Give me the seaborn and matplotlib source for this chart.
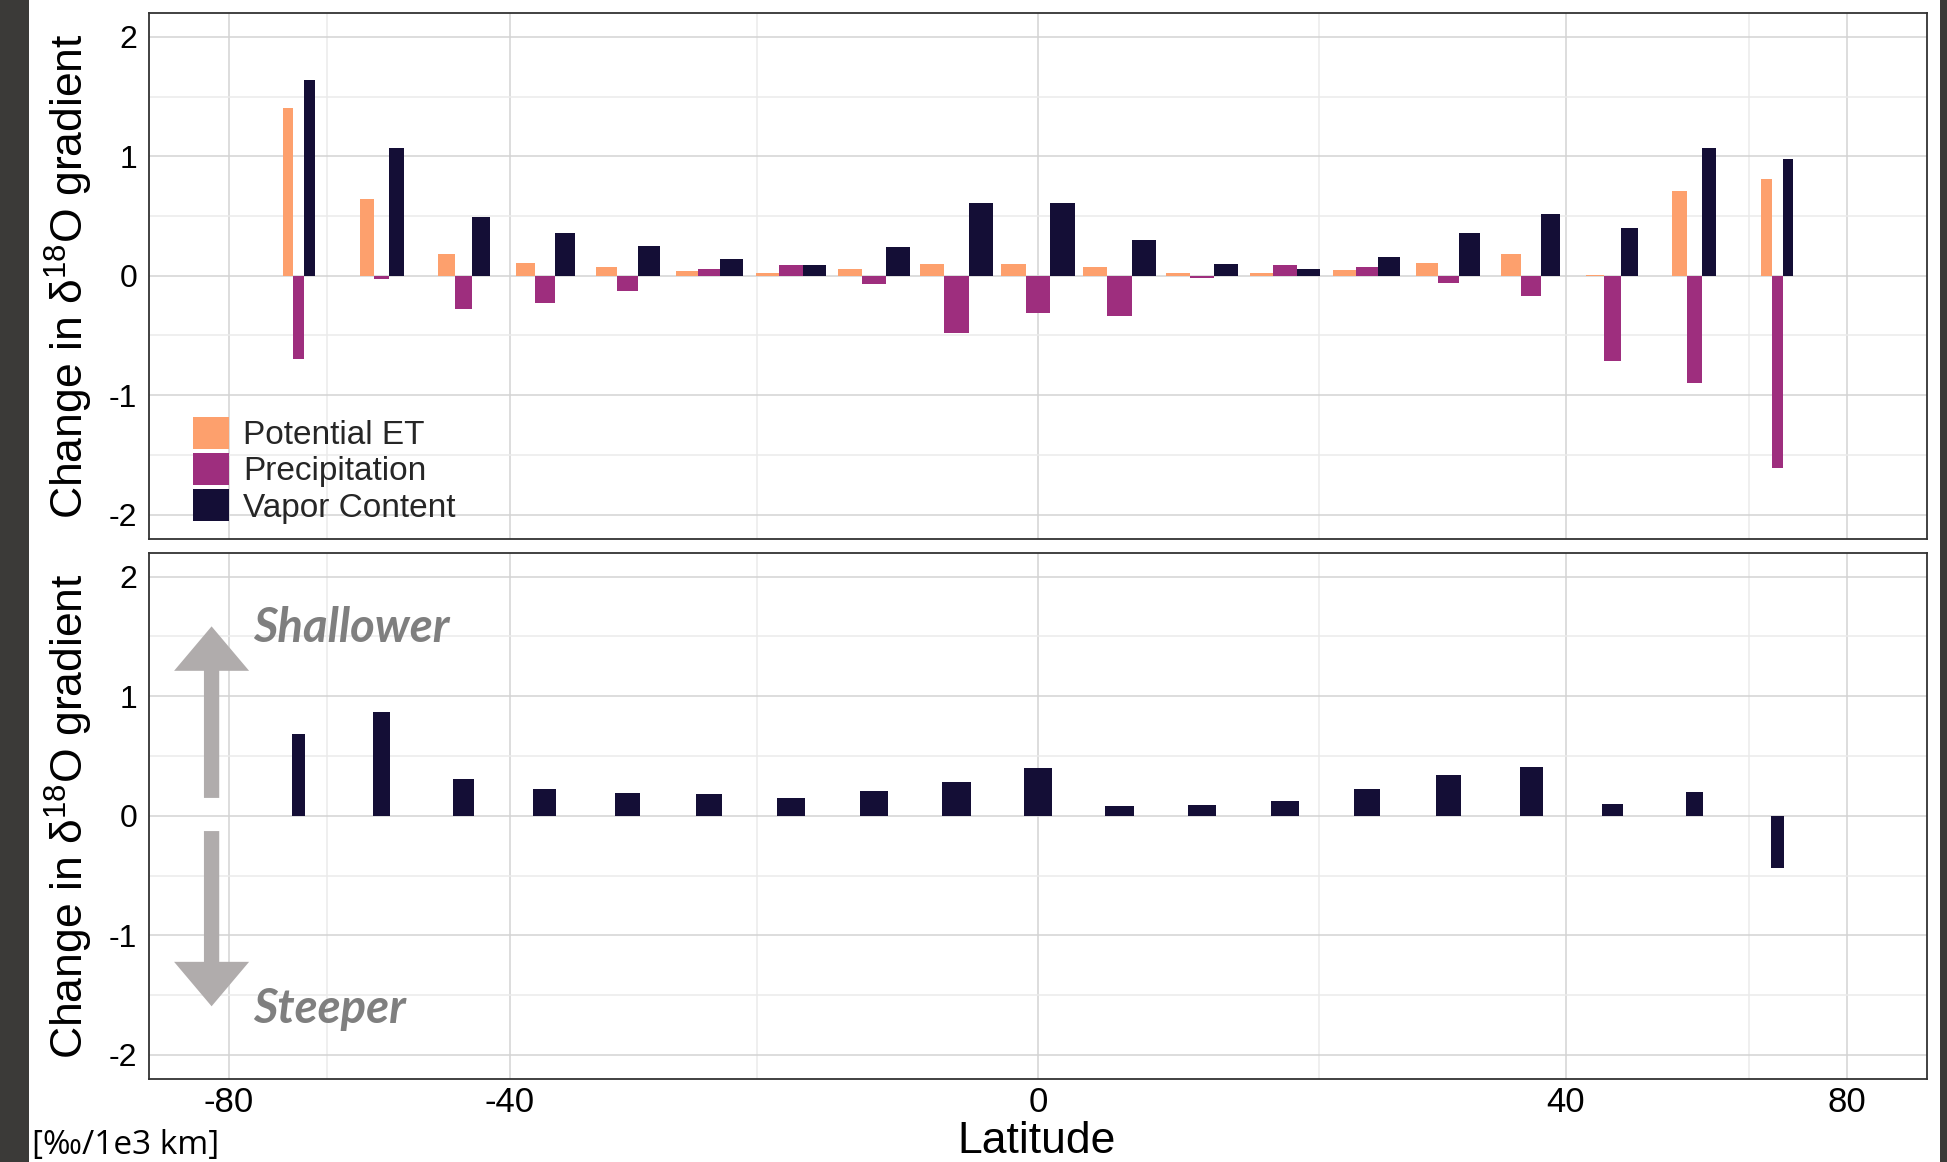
import numpy as np
import pandas as pd
import matplotlib
matplotlib.use("Agg")
import matplotlib.pyplot as plt
import seaborn as sns
from matplotlib.patches import Patch, Rectangle, FancyArrowPatch, ArrowStyle
from matplotlib.ticker import FixedLocator, MultipleLocator, NullFormatter

# Centres of the equal-area latitude bands (degrees)
latitudes = [-64.2, -53.1, -44.4, -36.9, -30.0, -23.6, -17.5, -11.5, -5.7, 0.0,
             5.7, 11.5, 17.5, 23.6, 30.0, 36.9, 44.4, 53.1, 64.2]

# Change in the d18O gradient attributed to each driver [permil / 1e3 km]
potential_et = [1.40, 0.64, 0.18, 0.11, 0.07, 0.04, 0.02, 0.06, 0.10, 0.10,
                0.07, 0.02, 0.02, 0.05, 0.11, 0.18, 0.01, 0.71, 0.81]
precipitation = [-0.70, -0.03, -0.28, -0.23, -0.13, 0.06, 0.09, -0.07, -0.48, -0.31,
                 -0.34, -0.02, 0.09, 0.07, -0.06, -0.17, -0.71, -0.90, -1.61]
vapor_content = [1.64, 1.07, 0.49, 0.36, 0.25, 0.14, 0.09, 0.24, 0.61, 0.61,
                 0.30, 0.10, 0.06, 0.16, 0.36, 0.52, 0.40, 1.07, 0.98]

# Total simulated change in the gradient
total_change = [0.68, 0.87, 0.31, 0.22, 0.19, 0.18, 0.15, 0.21, 0.28, 0.40,
                0.08, 0.09, 0.12, 0.22, 0.34, 0.41, 0.10, 0.20, -0.44]

components = ["Potential ET", "Precipitation", "Vapor Content"]
component_colors = ["#FDA06D", "#9E2E7E", "#140E36"]
total_color = "#140E36"

lat_major = [-80, -40, 0, 40, 80]
lat_minor = [-60, -20, 20, 60]
lat_tick_labels = ["-80", "-40", "0", "40", "80"]
y_ticks = [-2, -1, 0, 1, 2]

ylabel_text = "Change in δ$^{18}$O gradient"


def lat_to_sine(x):
    """Area-true latitude axis: sin(latitude), continued linearly past the poles."""
    x = np.asarray(x, dtype=float)
    s = np.sin(np.radians(np.clip(x, -90, 90)))
    return np.where(np.abs(x) > 90, np.sign(x) * (1 + (np.abs(x) - 90) / 90), s)


def sine_to_lat(y):
    y = np.asarray(y, dtype=float)
    lat = np.degrees(np.arcsin(np.clip(y, -1, 1)))
    return np.where(np.abs(y) > 1, np.sign(y) * (90 + (np.abs(y) - 1) * 90), lat)


# ---- data tables -------------------------------------------------------
df_parts = pd.DataFrame({
    "lat": latitudes * 3,
    "value": potential_et + precipitation + vapor_content,
    "component": [c for c in components for _ in latitudes],
})
df_total = pd.DataFrame({"lat": latitudes, "value": total_change})

# ---- style ---------------------------------------------------------------
sns.set_theme(style="whitegrid")
plt.rcParams.update({
    "font.family": ["Liberation Sans", "DejaVu Sans"],
    "mathtext.fontset": "custom",
    "mathtext.rm": "Liberation Sans",
    "mathtext.it": "Liberation Sans:italic",
    "mathtext.default": "regular",
    "axes.unicode_minus": False,
    "axes.edgecolor": "#333333",
    "axes.linewidth": 1.3,
    "figure.facecolor": "white",
    "axes.facecolor": "white",
})

fig = plt.figure(figsize=(19.47, 11.62), dpi=100)
ax_top = fig.add_axes([0.07653, 0.53649, 0.91320, 0.45241])
ax_bot = fig.add_axes([0.07653, 0.07151, 0.91320, 0.45284])

# ---- bars ----------------------------------------------------------------
sns.barplot(data=df_parts, x="lat", y="value", hue="component",
            hue_order=components, palette=dict(zip(components, component_colors)),
            native_scale=True, orient="x", width=0.9, dodge=True,
            errorbar=None, saturation=1, linewidth=0, legend=False, ax=ax_top)

sns.barplot(data=df_total, x="lat", y="value", color=total_color,
            native_scale=True, orient="x", width=0.35,
            errorbar=None, saturation=1, linewidth=0, ax=ax_bot)

# ---- axes ----------------------------------------------------------------
for ax in (ax_top, ax_bot):
    ax.set_xscale("function", functions=(lat_to_sine, sine_to_lat))
    ax.set_xlim(-97.4, 97.4)
    ax.set_ylim(-2.2, 2.2)
    ax.xaxis.set_major_locator(FixedLocator(lat_major))
    ax.xaxis.set_minor_locator(FixedLocator(lat_minor))
    ax.xaxis.set_minor_formatter(NullFormatter())
    ax.yaxis.set_major_locator(FixedLocator(y_ticks))
    ax.yaxis.set_minor_locator(MultipleLocator(0.5))
    ax.set_yticklabels([str(t) for t in y_ticks])
    ax.set_axisbelow(True)
    ax.grid(which="major", color="#D3D3D3", linewidth=1.1)
    ax.grid(which="minor", color="#EBEBEB", linewidth=1.1)
    for sp in ax.spines.values():
        sp.set_visible(True)
        sp.set_color("#333333")
        sp.set_linewidth(1.3)
    ax.tick_params(axis="y", which="major", length=5, width=1, color="#333333",
                   pad=3.5, labelsize=23, labelcolor="black")
    ax.tick_params(axis="y", which="minor", length=0)
    ax.tick_params(axis="x", which="minor", length=0)
    ax.set_ylabel(ylabel_text, fontsize=32, color="black")
    ax.yaxis.set_label_coords(-0.0304, 0.5)
    ax.set_xlabel("")

ax_top.tick_params(axis="x", which="major", length=0, labelbottom=False)
ax_bot.set_xticklabels(lat_tick_labels)
ax_bot.tick_params(axis="x", which="major", length=4.5, width=1, color="#333333",
                   pad=0.5, labelsize=25, labelcolor="black")

# ---- legend --------------------------------------------------------------
handles = [Patch(facecolor=c, edgecolor="none") for c in component_colors]
ax_top.legend(handles, components, loc="lower left", bbox_to_anchor=(0.0247, 0.0285),
              frameon=False, fontsize=24, handlelength=1.08, handleheight=1.08,
              handletextpad=0.42, labelspacing=0.06, borderpad=0, borderaxespad=0)

# ---- direction annotation ------------------------------------------------
arrow_style = ArrowStyle.Simple(head_length=32, head_width=54, tail_width=11)
for start, end in (((0.0352, 0.534), (0.0352, 0.860)),
                   ((0.0352, 0.471), (0.0352, 0.138))):
    ax_bot.add_patch(FancyArrowPatch(start, end, transform=ax_bot.transAxes,
                                     arrowstyle=arrow_style, mutation_scale=1,
                                     shrinkA=0, shrinkB=0, color="#B0ACAC",
                                     linewidth=0, zorder=4))
ax_bot.text(0.0585, 0.8303, "Shallower", transform=ax_bot.transAxes,
            family=["Lato", "DejaVu Sans"], fontweight="bold", fontstyle="italic",
            fontsize=34, color="#7F7F7F", ha="left", va="baseline")
ax_bot.text(0.0585, 0.106, "Steeper", transform=ax_bot.transAxes,
            family=["Lato", "DejaVu Sans"], fontweight="bold", fontstyle="italic",
            fontsize=34, color="#7F7F7F", ha="left", va="baseline")

# ---- figure-level labels -------------------------------------------------
fig.text(1037 / 1947, 9 / 1162, "Latitude", ha="center", va="baseline",
         fontsize=32, color="black")
fig.text(32 / 1947, 8 / 1162, "[‰/1e3 km]", ha="left", va="baseline",
         family=["Open Sans", "DejaVu Sans"], fontsize=24, color="black")

# dark frame strips at the left and right edges
fig.patches.append(Rectangle((0, 0), 29 / 1947, 1, transform=fig.transFigure,
                             facecolor="#3B3A38", edgecolor="none", zorder=-1))
fig.patches.append(Rectangle((1940 / 1947, 0), 7 / 1947, 1, transform=fig.transFigure,
                             facecolor="#3B3A38", edgecolor="none", zorder=-1))

fig.savefig("out.png", dpi=100)
